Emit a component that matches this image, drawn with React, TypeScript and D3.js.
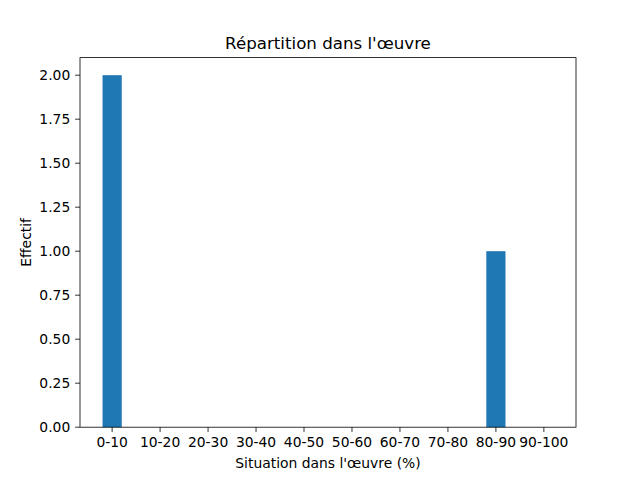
import React from "react";
import * as d3 from "d3";

const categories = ["0-10", "10-20", "20-30", "30-40", "40-50", "50-60", "60-70", "70-80", "80-90", "90-100"];
const counts = [2, 0, 0, 0, 0, 0, 0, 0, 1, 0];
const yTicks = [0, 0.25, 0.5, 0.75, 1.0, 1.25, 1.5, 1.75, 2.0];

const W = 640, H = 480;
const L = 80, R = 576, T = 57.6, B = 427.2;
const barW = 0.4;
const FONT = "DejaVu Sans, sans-serif";

export default function App() {
  const n = categories.length;
  const lo = -barW / 2, hi = n - 1 + barW / 2;
  const pad = (hi - lo) * 0.05;
  const x = d3.scaleLinear().domain([lo - pad, hi + pad]).range([L, R]);
  const yMax = d3.max(counts)! * 1.05;
  const y = d3.scaleLinear().domain([0, yMax]).range([B, T]);

  return (
    <svg width={W} height={H} style={{ position: "absolute", left: 0, top: 0, background: "#fff" }} fontFamily={FONT}>
      <rect x={0} y={0} width={W} height={H} fill="#fff" />
      {counts.map((c, i) => (
        <rect key={i} x={x(i - barW / 2)} y={y(c)} width={x(i + barW / 2) - x(i - barW / 2)} height={B - y(c)} fill="#1f77b4" />
      ))}
      {/* x ticks */}
      {categories.map((c, i) => (
        <g key={c}>
          <line x1={x(i)} x2={x(i)} y1={B} y2={B + 4.86} stroke="#000" strokeWidth={0.8} />
          <text x={x(i)} y={B + 4.86 + 4.86 + 10.5} textAnchor="middle" fontSize={13.89} fill="#000">{c}</text>
        </g>
      ))}
      {/* y ticks */}
      {yTicks.map((t) => (
        <g key={t}>
          <line x1={L - 4.86} x2={L} y1={y(t)} y2={y(t)} stroke="#000" strokeWidth={0.8} />
          <text x={L - 4.86 - 4.86} y={y(t)} dy="0.35em" textAnchor="end" fontSize={13.89} fill="#000">{t.toFixed(2)}</text>
        </g>
      ))}
      <rect x={L} y={T} width={R - L} height={B - T} fill="none" stroke="#000" strokeWidth={0.8} />
      <text x={(L + R) / 2} y={T - 9} textAnchor="middle" fontSize={16.67} fill="#000">Répartition dans l'œuvre</text>
      <text x={(L + R) / 2} y={468} textAnchor="middle" fontSize={13.89} fill="#000">Situation dans l'œuvre (%)</text>
      <text transform={`translate(31,${(T + B) / 2}) rotate(-90)`} textAnchor="middle" fontSize={13.89} fill="#000">Effectif</text>
    </svg>
  );
}
